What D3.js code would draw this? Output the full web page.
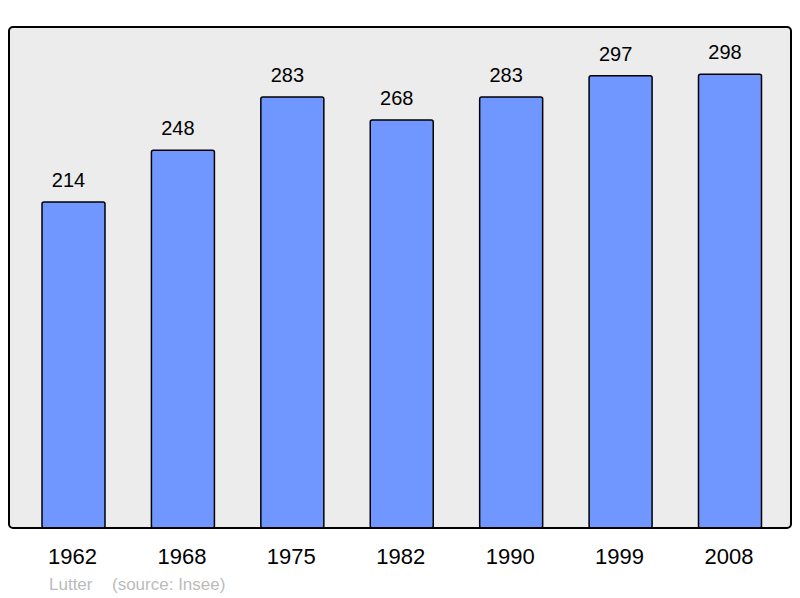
<!DOCTYPE html>
<html><head><meta charset="utf-8">
<script src="https://cdn.jsdelivr.net/npm/d3@7"></script>
<style>body{margin:0;background:#fff}svg{display:block}</style>
</head><body>
<script>
const years = ["1962","1968","1975","1982","1990","1999","2008"];
const population = [214, 248, 283, 268, 283, 297, 298];
const sourceLabels = ["Lutter", "(source: Insee)"];

const W = 800, H = 598;
const svg = d3.select("body").append("svg").attr("width", W).attr("height", H);

const frame = {x: 9, y: 27, w: 782, h: 501};
const y = d3.scaleLinear().domain([0, 329]).range([frame.y + frame.h, frame.y]);
const x = d3.scalePoint().domain(years).range([73.5, 730]);
const bw = 63;

svg.append("rect").attr("x", frame.x).attr("y", frame.y).attr("width", frame.w).attr("height", frame.h)
  .attr("rx", 4).attr("fill", "#ececec").attr("stroke", "none");

const data = years.map((yr, i) => ({yr, v: population[i]}));

svg.selectAll("rect.bar").data(data).enter().append("rect").attr("class", "bar")
  .attr("x", d => x(d.yr) - bw / 2).attr("y", d => y(d.v))
  .attr("width", bw).attr("height", d => y(0) - y(d.v))
  .attr("rx", 2)
  .attr("fill", "#7096ff").attr("stroke", "#000").attr("stroke-width", 1.5);

svg.append("rect").attr("x", frame.x).attr("y", frame.y).attr("width", frame.w).attr("height", frame.h)
  .attr("rx", 4).attr("fill", "none").attr("stroke", "#000").attr("stroke-width", 2);

svg.selectAll("text.val").data(data).enter().append("text").attr("class", "val")
  .attr("x", d => x(d.yr) - 5).attr("y", d => y(d.v) - 15)
  .attr("text-anchor", "middle").attr("font-family", "Liberation Sans, Arial, sans-serif")
  .attr("font-size", 20).attr("fill", "#000").text(d => d.v);

svg.selectAll("text.yr").data(years).enter().append("text").attr("class", "yr")
  .attr("x", d => x(d) - 1).attr("y", 564)
  .attr("text-anchor", "middle").attr("font-family", "Liberation Sans, Arial, sans-serif")
  .attr("font-size", 22).attr("fill", "#000").text(d => d);

svg.append("text").attr("x", 49).attr("y", 590)
  .attr("font-family", "Liberation Sans, Arial, sans-serif").attr("font-size", 17).attr("fill", "#bbbbbb")
  .text(sourceLabels[0]);
svg.append("text").attr("x", 112).attr("y", 590)
  .attr("font-family", "Liberation Sans, Arial, sans-serif").attr("font-size", 17).attr("fill", "#bbbbbb")
  .text(sourceLabels[1]);
</script>
</body></html>
